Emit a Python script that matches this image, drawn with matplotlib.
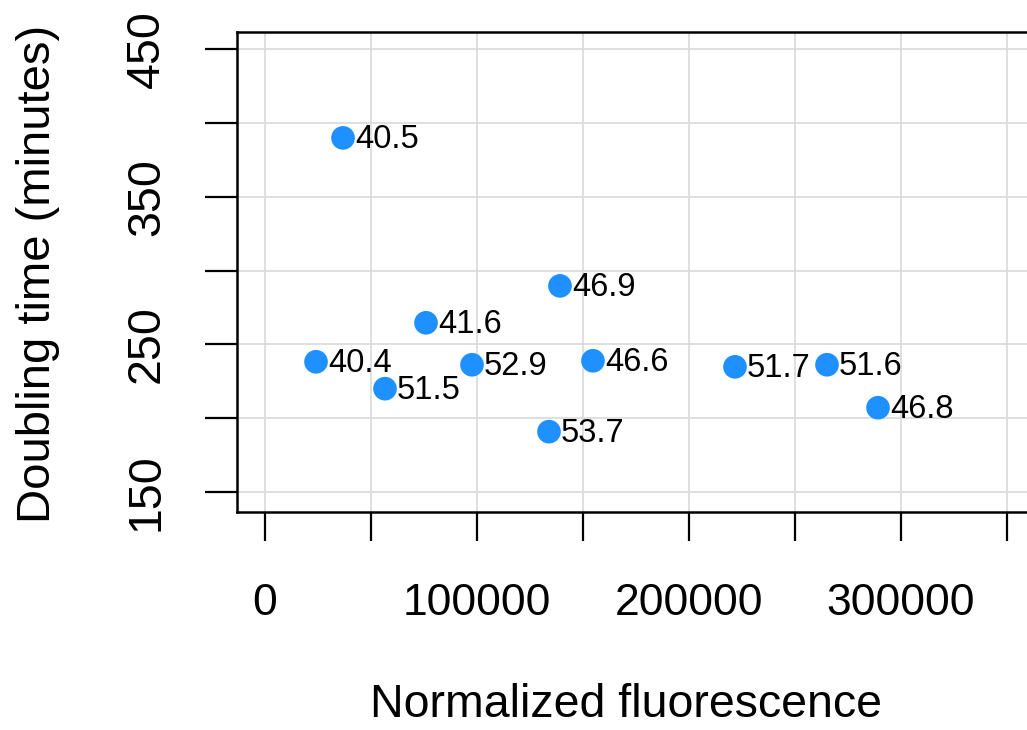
import matplotlib
matplotlib.use("Agg")
import matplotlib.pyplot as plt

# Data
fluorescence = [36800, 139150, 75950, 24060, 56600, 97640, 154700, 133960, 221700, 265100, 289150]
doubling_time = [389.8, 289.6, 264.6, 238.2, 220.0, 236.2, 238.9, 190.9, 234.8, 236.2, 207.1]
point_labels = ["40.5", "46.9", "41.6", "40.4", "51.5", "52.9", "46.6", "53.7", "51.7", "51.6", "46.8"]

x_ticks = [0, 50000, 100000, 150000, 200000, 250000, 300000, 350000]
x_ticklabels = ["0", "", "100000", "", "200000", "", "300000", ""]
y_ticks = [150, 200, 250, 300, 350, 400, 450]
y_ticklabels = ["150", "", "250", "", "350", "", "450"]

plt.rcParams['font.family'] = ['Liberation Sans', 'DejaVu Sans']

W, H = 1027, 730
fig = plt.figure(figsize=(W / 100, H / 100), dpi=100)
left, right, top, bottom = 237, 1045, 32, 512
ax = fig.add_axes([left / W, 1 - bottom / H, (right - left) / W, (bottom - top) / H])

ax.set_xlim(-13208, 367925)
ax.set_ylim(136.5, 461.5)

ax.set_xticks(x_ticks)
ax.set_xticklabels(x_ticklabels)
ax.set_yticks(y_ticks)
ax.set_yticklabels(y_ticklabels, rotation=90, va='center')

ax.grid(True, color='#dcdcdc', linewidth=1.3)
ax.set_axisbelow(True)

ax.scatter(fluorescence, doubling_time, s=290, color='#1E90FF', edgecolors='none', zorder=3)
for xv, yv, lab in zip(fluorescence, doubling_time, point_labels):
    ax.annotate(lab, (xv, yv), xytext=(8.5, -1), textcoords='offset points',
                ha='left', va='center', fontsize=23.5, color='black', zorder=4)

for side in ['top', 'left', 'bottom']:
    ax.spines[side].set_linewidth(1.8)
    ax.spines[side].set_color('black')
ax.spines['right'].set_visible(False)

ax.tick_params(axis='x', length=21, width=1.6, labelsize=32, pad=30, direction='out')
ax.tick_params(axis='y', length=23, width=1.6, labelsize=33.5, pad=26, direction='out')

fig.text(626 / W, 1 - 705 / H, "Normalized fluorescence", ha='center', va='center', fontsize=33.5)
fig.text(38 / W, 1 - 274 / H, "Doubling time (minutes)", ha='center', va='center',
         rotation=90, fontsize=34)

fig.savefig("out.png", dpi=100)
